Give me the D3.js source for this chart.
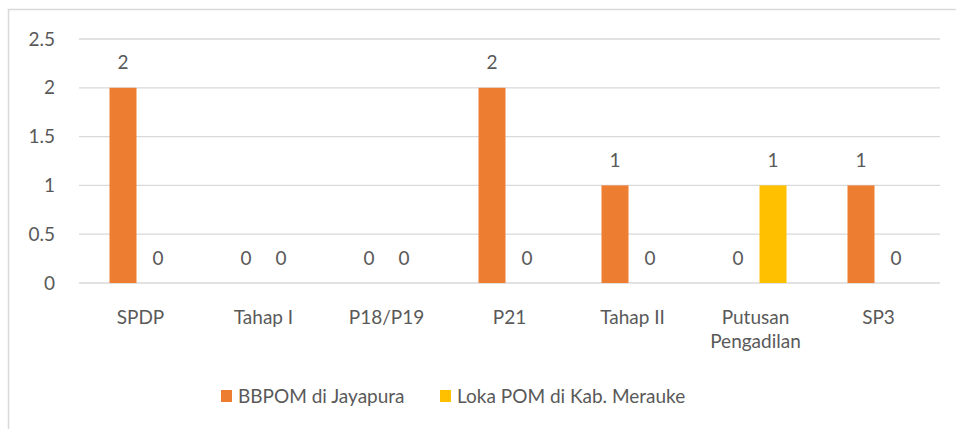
<!DOCTYPE html>
<html>
<head>
<meta charset="utf-8">
<script src="https://cdn.jsdelivr.net/npm/d3@7"></script>
<style>
  body { margin: 0; background: #fff; }
  text { font-family: Lato, "Open Sans", sans-serif; fill: #595959; }
</style>
</head>
<body>
<script>
// chart data
let categories = ["SPDP", "Tahap I", "P18/P19", "P21", "Tahap II", "Putusan\nPengadilan", "SP3"]
let seriesNames = ["BBPOM di Jayapura", "Loka POM di Kab. Merauke"]
let bbpom = [2, 0, 0, 2, 1, 0, 1]
let loka = [0, 0, 0, 0, 0, 1, 0]
let yTicks = [0, 0.5, 1, 1.5, 2, 2.5]
let colors = ["#ED7D31", "#FFC000"]

let width = 956
let height = 429
let fs = 19

let svg = d3.select("body").append("svg")
  .attr("width", width)
  .attr("height", height)

// chart border
svg.append("rect")
  .attr("x", 8.5).attr("y", 9.5)
  .attr("width", 1000).attr("height", 500)
  .attr("fill", "none")
  .attr("stroke", "#d9d9d9")
  .attr("stroke-width", 1.5)

let x = d3.scaleBand()
  .domain(categories)
  .range([79, 940])

let y = d3.scaleLinear()
  .domain([0, 2.5])
  .range([283, 39])

let barW = 27
let barGap = 8

// gridlines
svg.append("g")
  .selectAll("line")
  .data(yTicks)
  .join("line")
  .attr("x1", x.range()[0]).attr("x2", x.range()[1])
  .attr("y1", d => y(d)).attr("y2", d => y(d))
  .attr("stroke", "#d9d9d9")
  .attr("stroke-width", 1.3)

// y labels
svg.append("g")
  .selectAll("text")
  .data(yTicks)
  .join("text")
  .attr("x", 55)
  .attr("y", d => y(d) + 6.5)
  .attr("text-anchor", "end")
  .attr("font-size", fs)
  .text(d => d)

let series = [bbpom, loka]
series.forEach((vals, s) => {
  let g = svg.append("g")
  let groupW = 2 * barW + barGap
  let bx = (d, i) => x(categories[i]) + x.bandwidth() / 2 - groupW / 2 + s * (barW + barGap)
  g.selectAll("rect")
    .data(vals)
    .join("rect")
    .attr("x", bx)
    .attr("y", d => y(d))
    .attr("width", barW)
    .attr("height", d => y(0) - y(d))
    .attr("fill", colors[s])
  g.selectAll("text")
    .data(vals)
    .join("text")
    .attr("x", (d, i) => bx(d, i) + barW / 2)
    .attr("y", d => y(d) - 18.5)
    .attr("text-anchor", "middle")
    .attr("font-size", fs)
    .text(d => d)
})

// category labels
svg.append("g")
  .selectAll("text")
  .data(categories)
  .join("text")
  .attr("x", d => x(d) + x.bandwidth() / 2)
  .attr("y", 324)
  .attr("text-anchor", "middle")
  .attr("font-size", fs)
  .each(function(d) {
    let lines = d.split("\n")
    d3.select(this).selectAll("tspan")
      .data(lines)
      .join("tspan")
      .attr("x", x(d) + x.bandwidth() / 2)
      .attr("dy", (l, i) => i == 0 ? 0 : 24)
      .text(l => l)
  })

// legend
let legendX = [221, 440]
let legend = svg.append("g")
seriesNames.forEach((name, i) => {
  legend.append("rect")
    .attr("x", legendX[i]).attr("y", 390)
    .attr("width", 11).attr("height", 12)
    .attr("fill", colors[i])
  legend.append("text")
    .attr("x", legendX[i] + 17)
    .attr("y", 402.5)
    .attr("font-size", fs)
    .text(name)
})
</script>
</body>
</html>
